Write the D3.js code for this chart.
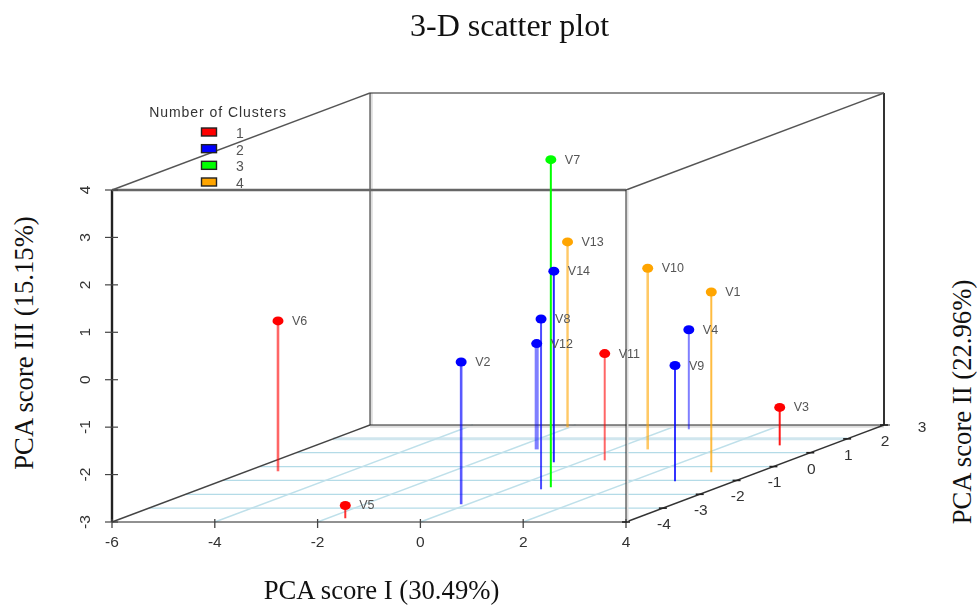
<!DOCTYPE html>
<html>
<head>
<meta charset="utf-8">
<title>3-D scatter plot</title>
<style>
    html, body{ margin:0; padding:0; background:#fff; }
    svg{ display:block; }
    .plot{ filter:blur(0.35px); }
    .serif{ font-family:"Liberation Serif", serif; fill:#111; }
    .tick{ font-family:"Liberation Sans", sans-serif; font-size:15.5px; fill:#333; }
    .vlabel{ font-family:"Liberation Sans", sans-serif; font-size:12.5px; fill:#555; }
</style>
</head>
<body>
<script src="https://d3js.org/d3.v7.min.js"></script>
<script>
var width = 977, height = 605;

// values
var names   = ["V1","V2","V3","V4","V5","V6","V7","V8","V9","V10","V11","V12","V13","V14"];
var cluster = [4,2,1,2,1,1,3,2,2,4,1,2,4,2];
var pcaI    = [3.085,-0.125,3.025,0.425,-1.655,-5.395,0.745,0.655,2.845,0.665,0.395,-1.495,-2.035,-0.495];
var pcaII   = [-0.41,-2.72,1.53,2.69,-3.73,-0.34,-1.50,-1.64,-1.06,1.24,0.45,1.24,2.83,0.31];
var pcaIII  = [0.80,0.00,-2.20,-0.90,-2.73,0.17,3.91,0.59,-0.56,0.82,-0.75,-0.77,0.91,1.03];

var xTicks = [-6,-4,-2,0,2,4];
var yTicks = [-4,-3,-2,-1,0,1,2,3];
var zTicks = [-3,-2,-1,0,1,2,3,4];
var clusterLabels = ["1","2","3","4"];
var clusterColors = ["#ff0000","#0000ff","#00ff00","#ffa500"];

// stems came out uneven in the source image: [width, opacity]
var stemLook = {V1:[2,.75],V2:[2.6,.65],V3:[2,.9],V4:[2,.5],V5:[2,.8],V6:[2.6,.6],V7:[2,1],V8:[2,.7],
                V9:[2,.8],V10:[2.6,.6],V11:[2,.6],V12:[4,.5],V13:[2.4,.6],V14:[2,.85]};

var x = d3.scaleLinear().domain([-6,4]).range([112,626]);
var z = d3.scaleLinear().domain([-3,4]).range([522,190]);
var depthX = d3.scaleLinear().domain([-4,3]).range([0,258]);
var depthY = d3.scaleLinear().domain([-4,3]).range([0,-97]);

function px(a,b){ return x(a)+depthX(b); }
function py(b,c){ return z(c)+depthY(b); }

var svg = d3.select("body").append("svg").attr("width",width).attr("height",height);
var plot = svg.append("g").attr("class","plot");

function line(a,b,c,d,color,w){
    plot.append("line").attr("x1",a).attr("y1",b).attr("x2",c).attr("y2",d)
        .attr("stroke",color).attr("stroke-width",w);
}
// one edge of the box between two data corners
function edge(p1,p2,color,w){
    line(px(p1[0],p1[1]),py(p1[1],p1[2]),px(p2[0],p2[1]),py(p2[1],p2[2]),color,w);
}

// floor grid
yTicks.slice(1,-1).forEach(function(v){
    var first = v==2;
    edge([-6,v,-3],[4,v,-3],first?"#d0e6ee":"#b4dbe7",first?3:1.3);
});
xTicks.slice(1,-1).forEach(function(v){
    edge([v,-4,-3],[v,3,-3],"#bfe0ea",1.4);
});

// back of the box
line(px(-6,3)+1.5,py(3,4),px(-6,3)+1.5,py(3,-3),"#ddd",2.5);
line(px(-6,3),py(3,-3)+1.5,px(4,3),py(3,-3)+1.5,"#ddd",2.5);
edge([-6,3,-3],[-6,3,4],"#222",1);
edge([-6,3,4],[4,3,4],"#222",1);
edge([-6,3,-3],[4,3,-3],"#222",1);
line(px(4,3),py(3,-3),px(4,3)+6,py(3,-3),"#222",1);
edge([4,3,-3],[4,3,4],"#333",2);
// sides
edge([-6,-4,4],[-6,3,4],"#555",1.4);
edge([4,-4,4],[4,3,4],"#555",1.4);
edge([-6,-4,-3],[-6,3,-3],"#444",1.4);
edge([4,-4,-3],[4,3,-3],"#333",1.4);
// front of the box
line(x(4)+1.5,z(4),x(4)+1.5,z(-3),"#ddd",2);
edge([-6,-4,-3],[-6,-4,4],"#222",2.4);
edge([-6,-4,4],[4,-4,4],"#666",2.4);
edge([4,-4,-3],[4,-4,4],"#222",1);
edge([-6,-4,-3],[4,-4,-3],"#222",1);

// axis ticks
xTicks.forEach(function(v){
    line(x(v),z(-3)-3,x(v),z(-3)+6,"#444",1.3);
    plot.append("text").attr("class","tick").attr("x",x(v)).attr("y",z(-3)+25)
        .attr("text-anchor","middle").text(v);
});
zTicks.forEach(function(v){
    line(x(-6)-7,z(v),x(-6)+6,z(v),"#444",1.2);
    plot.append("text").attr("class","tick").attr("text-anchor","middle")
        .attr("transform","translate(90,"+z(v)+") rotate(-90)").text(v);
});
yTicks.forEach(function(v){
    var tx = px(4,v), ty = py(v,-3);
    line(tx-4,ty,tx+4,ty,"#222",1.6);
    plot.append("text").attr("class","tick").attr("text-anchor","middle")
        .attr("x",tx+38).attr("y",ty+7).text(v);
});

// stems, points and their names
names.forEach(function(n,i){
    var sx = px(pcaI[i],pcaII[i]), color = clusterColors[cluster[i]-1];
    plot.append("line").attr("x1",sx).attr("x2",sx)
        .attr("y1",py(pcaII[i],pcaIII[i])).attr("y2",py(pcaII[i],-3))
        .attr("stroke",color).attr("stroke-width",stemLook[n][0]).attr("stroke-opacity",stemLook[n][1]);
});
names.forEach(function(n,i){
    var sx = px(pcaI[i],pcaII[i]), sy = py(pcaII[i],pcaIII[i]);
    plot.append("ellipse").attr("cx",sx).attr("cy",sy).attr("rx",5.5).attr("ry",4.5)
        .attr("fill",clusterColors[cluster[i]-1]);
    plot.append("text").attr("class","vlabel").attr("x",sx+14).attr("y",sy+4).text(n);
});

// legend
var legendY = d3.scalePoint().domain(clusterLabels).range([132,182]);
plot.append("text").attr("class","vlabel").attr("x",218).attr("y",116.5)
    .attr("text-anchor","middle").style("font-size","14px").style("letter-spacing","0.95px").style("fill","#333")
    .text("Number of Clusters");
clusterLabels.forEach(function(c,i){
    plot.append("rect").attr("x",201.5).attr("y",legendY(c)-4).attr("width",15).attr("height",8)
        .attr("fill",clusterColors[i]).attr("stroke","#222").attr("stroke-width",1.4);
    plot.append("text").attr("class","vlabel").attr("x",236).attr("y",legendY(c)+6)
        .style("font-size","14px").text(c);
});

// titles sit outside the blurred plot
svg.append("text").attr("class","serif").attr("x",509.5).attr("y",36)
    .attr("text-anchor","middle").style("font-size","32px").text("3-D scatter plot");
svg.append("text").attr("class","serif").attr("x",381.5).attr("y",598.5)
    .attr("text-anchor","middle").style("font-size","26.7px").text("PCA score I (30.49%)");
svg.append("text").attr("class","serif").attr("text-anchor","middle").style("font-size","26.7px")
    .attr("transform","translate(33,343) rotate(-90)").text("PCA score III (15.15%)");
svg.append("text").attr("class","serif").attr("text-anchor","middle").style("font-size","26.7px")
    .attr("transform","translate(970.5,402) rotate(-90)").text("PCA score II (22.96%)");
</script>
</body>
</html>
